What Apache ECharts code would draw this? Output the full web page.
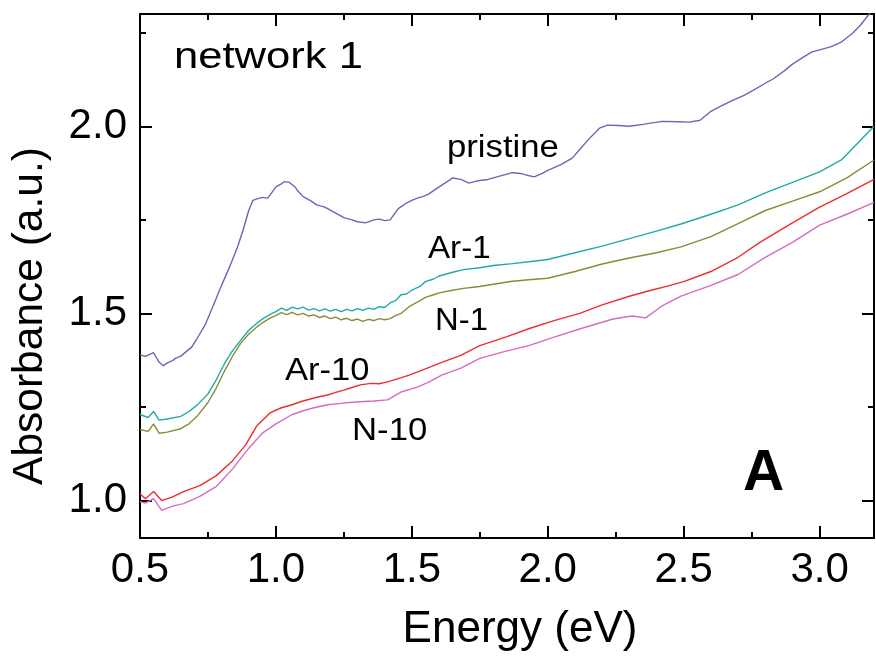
<!DOCTYPE html>
<html>
<head>
<meta charset="utf-8">
<script src="https://cdn.jsdelivr.net/npm/echarts@6/dist/echarts.min.js"></script>
<style>
  html, body { margin: 0; padding: 0; background: #fff; }
  #chart { width: 876px; height: 657px; }
</style>
</head>
<body>
<div id="chart"></div>
<script>
// Absorbance spectra of network 1: pristine film and after Ar / N treatments
// Each series is a list of [energy (eV), absorbance (a.u.)] readings.
const pristine = [
  [0.50,1.390],[0.52,1.385],[0.55,1.395],[0.57,1.370],[0.585,1.360],[0.60,1.368],[0.62,1.374],
  [0.63,1.380],[0.65,1.386],[0.67,1.398],[0.69,1.410],[0.71,1.433],[0.74,1.470],[0.77,1.522],
  [0.80,1.575],[0.83,1.625],[0.86,1.680],[0.88,1.725],[0.90,1.775],[0.915,1.802],[0.93,1.806],
  [0.95,1.810],[0.97,1.808],[0.98,1.818],[1.00,1.838],[1.02,1.846],[1.03,1.852],[1.05,1.850],
  [1.07,1.838],[1.08,1.828],[1.10,1.812],[1.13,1.800],[1.15,1.790],[1.18,1.784],[1.20,1.776],
  [1.23,1.764],[1.25,1.756],[1.28,1.750],[1.30,1.745],[1.33,1.742],[1.36,1.750],[1.38,1.752],
  [1.40,1.748],[1.42,1.750],[1.45,1.780],[1.48,1.795],[1.50,1.802],[1.52,1.808],[1.54,1.812],
  [1.56,1.818],[1.58,1.828],[1.60,1.838],[1.63,1.852],[1.65,1.862],[1.68,1.858],[1.71,1.848],
  [1.73,1.852],[1.75,1.855],[1.78,1.858],[1.80,1.862],[1.84,1.870],[1.87,1.876],[1.90,1.874],
  [1.92,1.870],[1.95,1.865],[1.98,1.874],[2.00,1.882],[2.05,1.898],[2.09,1.915],[2.12,1.940],
  [2.15,1.965],[2.19,1.995],[2.22,2.003],[2.26,2.002],[2.30,2.000],[2.35,2.005],[2.42,2.013],
  [2.48,2.012],[2.52,2.011],[2.56,2.016],[2.60,2.040],[2.64,2.055],[2.68,2.069],[2.72,2.082],
  [2.76,2.098],[2.80,2.115],[2.83,2.127],[2.87,2.148],[2.90,2.166],[2.94,2.185],[2.97,2.198],
  [3.00,2.204],[3.04,2.212],[3.08,2.225],[3.12,2.248],[3.15,2.270],[3.18,2.298],[3.20,2.315]
];
const ar1 = [
  [0.50,1.230],[0.53,1.222],[0.55,1.238],[0.57,1.215],[0.60,1.218],[0.65,1.225],[0.68,1.238],
  [0.71,1.255],[0.75,1.285],[0.78,1.322],[0.81,1.365],[0.84,1.400],[0.87,1.428],[0.90,1.455],
  [0.93,1.474],[0.95,1.485],[0.98,1.498],[1.00,1.505],[1.02,1.514],[1.04,1.508],[1.06,1.517],
  [1.08,1.512],[1.10,1.517],[1.12,1.509],[1.14,1.513],[1.16,1.507],[1.18,1.512],[1.20,1.506],
  [1.22,1.511],[1.24,1.505],[1.26,1.511],[1.28,1.507],[1.30,1.513],[1.32,1.508],[1.34,1.514],
  [1.36,1.511],[1.38,1.518],[1.40,1.516],[1.42,1.528],[1.44,1.534],[1.46,1.550],[1.48,1.552],
  [1.50,1.562],[1.53,1.572],[1.55,1.585],[1.58,1.592],[1.60,1.600],[1.65,1.610],[1.69,1.617],
  [1.75,1.622],[1.80,1.628],[1.87,1.633],[1.93,1.638],[2.00,1.644],[2.10,1.662],[2.20,1.680],
  [2.30,1.700],[2.40,1.720],[2.49,1.739],[2.60,1.765],[2.70,1.790],[2.80,1.822],[2.90,1.850],
  [3.00,1.878],[3.08,1.910],[3.12,1.940],[3.16,1.970],[3.20,2.000]
];
const n1 = [
  [0.50,1.190],[0.53,1.185],[0.55,1.205],[0.57,1.180],[0.60,1.183],[0.65,1.192],[0.68,1.205],
  [0.71,1.225],[0.75,1.262],[0.78,1.300],[0.81,1.345],[0.84,1.385],[0.87,1.420],[0.90,1.445],
  [0.93,1.464],[0.95,1.475],[0.98,1.488],[1.00,1.495],[1.02,1.502],[1.04,1.497],[1.06,1.503],
  [1.08,1.496],[1.10,1.500],[1.12,1.493],[1.14,1.496],[1.16,1.489],[1.18,1.493],[1.20,1.486],
  [1.22,1.490],[1.24,1.483],[1.26,1.487],[1.28,1.481],[1.30,1.485],[1.32,1.479],[1.34,1.484],
  [1.36,1.481],[1.38,1.486],[1.40,1.483],[1.42,1.486],[1.44,1.494],[1.46,1.500],[1.49,1.518],
  [1.52,1.530],[1.55,1.543],[1.58,1.550],[1.60,1.555],[1.65,1.562],[1.69,1.567],[1.75,1.572],
  [1.80,1.578],[1.87,1.586],[1.93,1.590],[2.00,1.594],[2.10,1.612],[2.20,1.632],[2.30,1.648],
  [2.40,1.662],[2.49,1.678],[2.60,1.705],[2.70,1.740],[2.80,1.775],[2.90,1.800],[3.00,1.825],
  [3.10,1.862],[3.20,1.910]
];
const ar10 = [
  [0.50,1.018],[0.52,1.005],[0.55,1.024],[0.58,1.000],[0.62,1.010],[0.66,1.024],[0.72,1.040],
  [0.78,1.066],[0.84,1.106],[0.89,1.150],[0.93,1.200],[0.98,1.235],[1.02,1.248],[1.06,1.256],
  [1.09,1.264],[1.12,1.270],[1.15,1.276],[1.19,1.282],[1.22,1.289],[1.25,1.295],[1.28,1.302],
  [1.31,1.309],[1.35,1.313],[1.38,1.312],[1.41,1.317],[1.45,1.326],[1.49,1.335],[1.55,1.352],
  [1.61,1.369],[1.68,1.388],[1.75,1.414],[1.85,1.438],[1.93,1.459],[2.02,1.480],[2.12,1.501],
  [2.20,1.523],[2.30,1.546],[2.37,1.560],[2.44,1.573],[2.50,1.585],[2.60,1.612],[2.70,1.650],
  [2.78,1.690],[2.90,1.742],[3.00,1.784],[3.10,1.820],[3.20,1.858]
];
const n10 = [
  [0.50,0.997],[0.52,0.993],[0.55,1.005],[0.58,0.974],[0.62,0.985],[0.66,0.992],[0.72,1.011],
  [0.78,1.037],[0.84,1.084],[0.90,1.140],[0.95,1.180],[1.00,1.205],[1.06,1.230],[1.10,1.240],
  [1.14,1.248],[1.19,1.256],[1.23,1.259],[1.27,1.262],[1.31,1.264],[1.36,1.266],[1.41,1.269],
  [1.46,1.290],[1.52,1.303],[1.56,1.316],[1.61,1.335],[1.68,1.354],[1.75,1.380],[1.84,1.398],
  [1.93,1.414],[2.02,1.436],[2.12,1.459],[2.24,1.485],[2.31,1.493],[2.36,1.488],[2.42,1.520],
  [2.49,1.546],[2.60,1.575],[2.70,1.604],[2.80,1.650],[2.90,1.690],[3.00,1.736],[3.10,1.765],
  [3.20,1.797]
];

const xMajor = [0.5, 1.0, 1.5, 2.0, 2.5, 3.0];
const xMinor = [0.75, 1.25, 1.75, 2.25, 2.75];
const yMajor = [1.0, 1.5, 2.0];
const yMinor = [1.25, 1.75, 2.25];

const FONT = '"Liberation Sans", Arial, Helvetica, sans-serif';
const X_MIN = 0.5, X_MAX = 3.2, Y_MIN = 0.9, Y_MAX = 2.3;
const TICK_STYLE = { color: '#000', width: 2 };

function axisBase(extra) {
  return Object.assign({
    type: 'value',
    splitLine: { show: false },
    axisLine: { show: true, onZero: false, lineStyle: { color: '#000', width: 2 } },
    axisTick: { show: true, inside: true, length: 12, lineStyle: TICK_STYLE },
    axisLabel: { show: false }
  }, extra);
}
function majorTicks(values) {
  return { show: true, inside: true, length: 12, customValues: values, lineStyle: TICK_STYLE };
}
function minorAxis(extra, values) {
  return axisBase(Object.assign({
    axisLine: { show: false },
    axisTick: { show: true, inside: true, length: 6, customValues: values, lineStyle: TICK_STYLE },
    axisLabel: { show: false }
  }, extra));
}

const tickLabel = {
  show: true, color: '#000', fontFamily: FONT, fontSize: 42,
  formatter: v => v.toFixed(1)
};

const chart = echarts.init(document.getElementById('chart'), null, { renderer: 'canvas' });

const lineSeries = (name, data, color) => ({
  name, type: 'line', data, xAxisIndex: 0, yAxisIndex: 0,
  showSymbol: false, symbol: 'none', smooth: false, clip: true,
  lineStyle: { color, width: 1.4 }, animation: false
});

function label(text, x, y, size, sx, bold) {
  return {
    type: 'text', x, y, scaleX: sx,
    style: { text, font: (bold ? 'bold ' : '') + size + 'px ' + FONT, fill: '#000', textVerticalAlign: 'middle' }
  };
}

chart.setOption({
  animation: false,
  backgroundColor: '#fff',
  grid: { left: 140, right: 2, top: 14, bottom: 113, containLabel: false },
  xAxis: [
    axisBase({
      min: X_MIN, max: X_MAX, position: 'bottom',
      name: 'Energy (eV)', nameLocation: 'middle', nameGap: 70,
      nameTextStyle: { color: '#000', fontFamily: FONT, fontSize: 44, padding: [0, 0, 0, 26] },
      axisTick: majorTicks(xMajor),
      axisLabel: Object.assign({ customValues: xMajor, margin: 11 }, tickLabel)
    }),
    minorAxis({ min: X_MIN, max: X_MAX, position: 'bottom' }, xMinor),
    axisBase({ min: X_MIN, max: X_MAX, position: 'top', axisTick: majorTicks(xMajor) }),
    minorAxis({ min: X_MIN, max: X_MAX, position: 'top' }, xMinor)
  ],
  yAxis: [
    axisBase({
      min: Y_MIN, max: Y_MAX, position: 'left',
      name: 'Absorbance (a.u.)', nameLocation: 'middle', nameGap: 88, nameRotate: 90,
      nameTextStyle: { color: '#000', fontFamily: FONT, fontSize: 42.5, padding: [0, 80, 0, 0] },
      axisTick: majorTicks(yMajor),
      axisLabel: Object.assign({ customValues: yMajor, margin: 13 }, tickLabel)
    }),
    minorAxis({ min: Y_MIN, max: Y_MAX, position: 'left' }, yMinor),
    axisBase({ min: Y_MIN, max: Y_MAX, position: 'right', axisTick: majorTicks(yMajor) }),
    minorAxis({ min: Y_MIN, max: Y_MAX, position: 'right' }, yMinor)
  ],
  series: [
    lineSeries('pristine', pristine, '#7b5fb3'),
    lineSeries('Ar-1', ar1, '#22a9a6'),
    lineSeries('N-1', n1, '#8c8a36'),
    lineSeries('Ar-10', ar10, '#ef2d2d'),
    lineSeries('N-10', n10, '#d66cbf')
  ],
  graphic: [
    label('network 1', 174, 58, 36, 1.21),
    label('pristine', 447, 148, 31, 1.12),
    label('Ar-1', 428, 249, 31, 1.07),
    label('N-1', 435, 321, 31, 1.06),
    label('Ar-10', 285, 371, 32, 1.08),
    label('N-10', 352, 431, 31, 1.12),
    label('A', 743, 474, 57, 1.0, true)
  ]
});
</script>
</body>
</html>
